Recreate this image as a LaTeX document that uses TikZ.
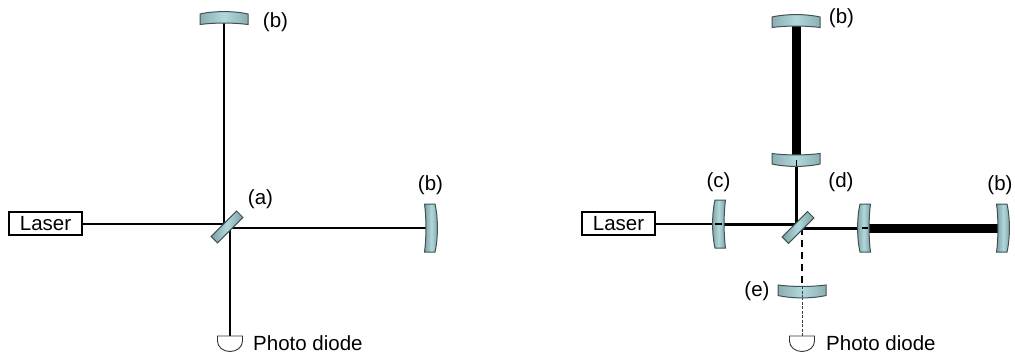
\documentclass[tikz,border=0pt]{standalone}
\usepackage{fontspec}
\setmainfont{Liberation Sans}
\definecolor{mirA}{HTML}{B0D8DC}
\definecolor{mirB}{HTML}{7F9FA1}
\definecolor{mirC}{HTML}{A6CDD1}
\definecolor{mirE}{HTML}{3F5355}
\newcommand{\mirpath}{(-24,-4) .. controls (-10,-7.2) and (10,-7.2) .. (24,-4)
      -- (24,6.5) .. controls (10,4.6) and (-10,4.6) .. (-24,6.5) -- cycle}
\tikzset{
  beam/.style={draw=black,line width=1.5pt},
  medbeam/.style={draw=black,line width=3pt},
  fatbeam/.style={draw=black,line width=9pt},
  thinmid/.style={draw=black,line width=1.5pt},
  dashbeam/.style={draw=black,line width=2pt,dash pattern=on 7pt off 5pt},
  thinbeam/.style={draw=black!75,line width=0.8pt,dash pattern=on 3pt off 1.5pt},
  lab/.style={inner sep=0pt,font=\fontsize{20.5pt}{22pt}\selectfont},
  laserbox/.style={draw=black,line width=1.6pt,minimum width=73pt,minimum height=23pt,inner sep=0pt,font=\fontsize{20.5pt}{22pt}\selectfont},
  mirfill/.style={draw=mirE,line width=1pt,left color=mirB,right color=mirB,middle color=mirA},
  mirflat/.style={draw=mirE,line width=1pt,left color=mirC!85!black,right color=mirC!85!black,middle color=mirA},
  pdshape/.style={draw=black!80,line width=0.9pt,fill=white},
  pics/mirrorv/.style={code={\path[mirfill] \mirpath;}},
  pics/mirrorh/.style={code={\path[mirflat] \mirpath;}},
  pics/splitter/.style={code={
    \path[mirfill] (-18,-4.5) rectangle (18,4.5);
  }},
  pics/diode/.style={code={
    \path[pdshape] (-12.5,0) -- (12.5,0) -- (12.5,5) .. controls (12.5,11) and (7,15.5) .. (0,15.5)
      .. controls (-7,15.5) and (-12.5,11) .. (-12.5,5) -- cycle;
  }}
}
\begin{document}
\begin{tikzpicture}[x=1pt,y=-1pt]
\useasboundingbox (0,0) rectangle (1015,353);
% ---------- left interferometer
\node[laserbox] (laserL) at (45.5,223.5) {Laser};
\coordinate (bsLa) at (224,224);
\coordinate (bsLb) at (230,228);
\coordinate (topL) at (224,22);
\coordinate (endL) at (428,228);
\coordinate (pdL) at (230,336);
\draw[beam] (laserL.east |- bsLa) -- (bsLa);
\draw[beam] (topL) -- (bsLa);
\draw[beam] (bsLb) -- (endL);
\draw[beam] (bsLb) -- (pdL);
\pic at (224,18) {mirrorh};
\pic[rotate=-90] at (431,228) {mirrorv};
\pic[rotate=45] at (227,227) {splitter};
\pic at (pdL) {diode};
\node[lab] (la) at (260.5,199) {(a)};
\node[lab] (lb1) at (275.5,22) {(b)};
\node[lab] (lb2) at (430.5,185) {(b)};
\node[lab,anchor=west] (lpd) at (253,343) {Photo diode};
% ---------- right interferometer
\node[laserbox] (laserR) at (618.5,223.5) {Laser};
\coordinate (bsRa) at (796.5,224);
\coordinate (bsRb) at (802,228);
\coordinate (cL) at (715,224);
\coordinate (cR) at (722,224);
\coordinate (inT) at (796.5,160);
\coordinate (inB) at (796.5,166);
\coordinate (topRa) at (796.5,24);
\coordinate (dL) at (862,228);
\coordinate (dR) at (868,228);
\coordinate (endR) at (1000,228);
\coordinate (eT) at (802,286);
\coordinate (eB) at (802,297);
\coordinate (pdR) at (802,336);
\draw[beam] (laserR.east |- cL) -- (cL);
\draw[medbeam] (cR) -- (bsRa);
\draw[medbeam] (inB) -- (bsRa);
\draw[fatbeam] (topRa) -- (inT);
\draw[medbeam] (bsRb) -- (dL);
\draw[fatbeam] (dR) -- (endR);
\draw[dashbeam] (bsRb) -- (eT);
\draw[thinbeam] (eB) -- (pdR);
\pic at (796,21) {mirrorh};
\pic[rotate=180] at (796,160) {mirrorh};
\pic[rotate=90] at (719,224) {mirrorv};
\pic[rotate=90] at (864,228) {mirrorv};
\pic[rotate=-90] at (1003,228) {mirrorv};
\pic[rotate=180] at (802,291.5) {mirrorh};
\pic[rotate=45] at (798,227.5) {splitter};
\pic at (pdR) {diode};
\draw[thinmid] (inT) -- (inB);
\draw[thinmid] (cL) -- (cR);
\draw[thinmid] (dL) -- (dR);
\draw[thinbeam] (eT) -- (eB);
\node[lab] (rb1) at (841.5,18) {(b)};
\node[lab] (rc) at (718.5,182) {(c)};
\node[lab] (rd) at (841,182) {(d)};
\node[lab] (rb2) at (1000,185) {(b)};
\node[lab] (re) at (757,291) {(e)};
\node[lab,anchor=west] (rpd) at (826,343) {Photo diode};
\end{tikzpicture}
\end{document}
